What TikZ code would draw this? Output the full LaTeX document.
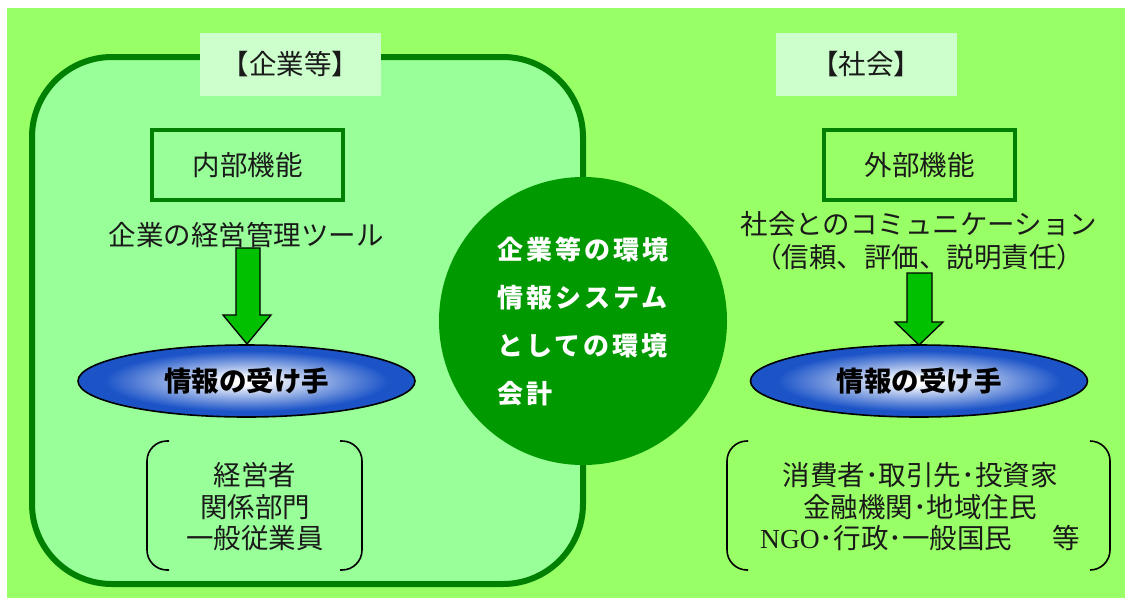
\documentclass[tikz,border=0pt]{standalone}
\usepackage{fontspec}
\usetikzlibrary{shapes.geometric}
\newfontfamily\cjk{Noto Sans CJK JP}
\newfontfamily\cjkls{Noto Sans CJK JP}[LetterSpace=12]
\newfontfamily\lat{Liberation Serif}
\definecolor{bgc}{HTML}{99FF66}
\definecolor{firmc}{HTML}{99FF99}
\definecolor{dgreen}{HTML}{008000}
\definecolor{labc}{HTML}{CCFFCC}
\definecolor{cgreen}{HTML}{009900}
\definecolor{agreen}{HTML}{00C000}
\definecolor{eblue}{RGB}{28,84,200}
\definecolor{txtc}{HTML}{1A1A1A}
\pgfdeclareradialshading{ellshade}{\pgfpoint{0bp}{0bp}}{color(0bp)=(white); color(2.5bp)=(white); color(21bp)=(eblue); color(50bp)=(eblue)}
\tikzset{
  txt/.style={font=\cjk\fontsize{27.5}{32}\selectfont, text=txtc, inner sep=0pt, align=center},
  labbox/.style={txt, fill=labc, minimum width=181pt, minimum height=63pt},
  funcbox/.style={txt, draw=dgreen, line width=4pt, minimum width=191pt, minimum height=70pt},
  recv/.style={ellipse, draw=black, line width=1.6pt, shading=ellshade, minimum width=337pt, minimum height=72pt, inner sep=0pt, font=\cjk\bfseries\fontsize{27.5}{32}\selectfont, text=black},
  blockarrow/.style={draw=black, line width=1.3pt, fill=agreen, line join=miter},
  brk/.style={draw=black, line width=1.6pt, rounded corners=20pt},
}
\begin{document}
\begin{tikzpicture}[x=1pt,y=-1pt]
\useasboundingbox (0,0) rectangle (1125,598);
\fill[bgc] (7,8) rectangle (1125,598);
% firm area
\node[draw=dgreen, fill=firmc, line width=6pt, rounded corners=80pt, minimum width=551pt, minimum height=527pt, inner sep=0pt] (firm) at (307.5,320.5) {};
\node[labbox] (lfirm) at (290.5,64.5) {【企業等】};
\node[labbox] (lsoc) at (866,64.5) {【社会】};
% left column
\node[funcbox] (inner) at (247.5,165) {内部機能};
\node[txt] (tool) at (246,235) {企業の経営管理ツール};
\draw[blockarrow] (236,248) -- (260,248) -- (260,315) -- (271,315) -- (247,344) -- (223,315) -- (236,315) -- cycle;
\node[recv] (recvL) at (246.5,381) {情報の受け手};
\draw[brk] (169,441) -- (147,441) -- (147,570) -- (169,570);
\draw[brk] (340,441) -- (362,441) -- (362,570) -- (340,570);
\node[txt, font=\cjk\fontsize{27.5}{31.5}\selectfont] (mgmt) at (255,507) {経営者\\関係部門\\一般従業員};
% right column
\node[funcbox] (outer) at (919.5,165) {外部機能};
\node[txt, font=\cjk\fontsize{27.5}{33}\selectfont] (comm) at (919,241) {社会とのコミュニケーション\\（信頼、評価、説明責任）};
\draw[blockarrow] (907,273) -- (932,273) -- (932,322) -- (943,322) -- (919,345) -- (895,322) -- (907,322) -- cycle;
\node[recv] (recvR) at (919,381) {情報の受け手};
\draw[brk] (748,441) -- (727,441) -- (727,570) -- (748,570);
\draw[brk] (1090,441) -- (1110,441) -- (1110,570) -- (1090,570);
\node[txt, font=\cjk\fontsize{27.5}{31.5}\selectfont] (stake) at (920,507) {消費者･取引先･投資家\\金融機関･地域住民\\{\lat NGO}･行政･一般国民\hspace{40pt}等};
% centre
\node[circle, fill=cgreen, minimum size=288pt, inner sep=0pt, align=left, text=white, font=\cjkls\bfseries\fontsize{26}{48}\selectfont] (core) at (583,321) {企業等の環境\\情報システム\\としての環境\\会計};
\end{tikzpicture}
\end{document}
